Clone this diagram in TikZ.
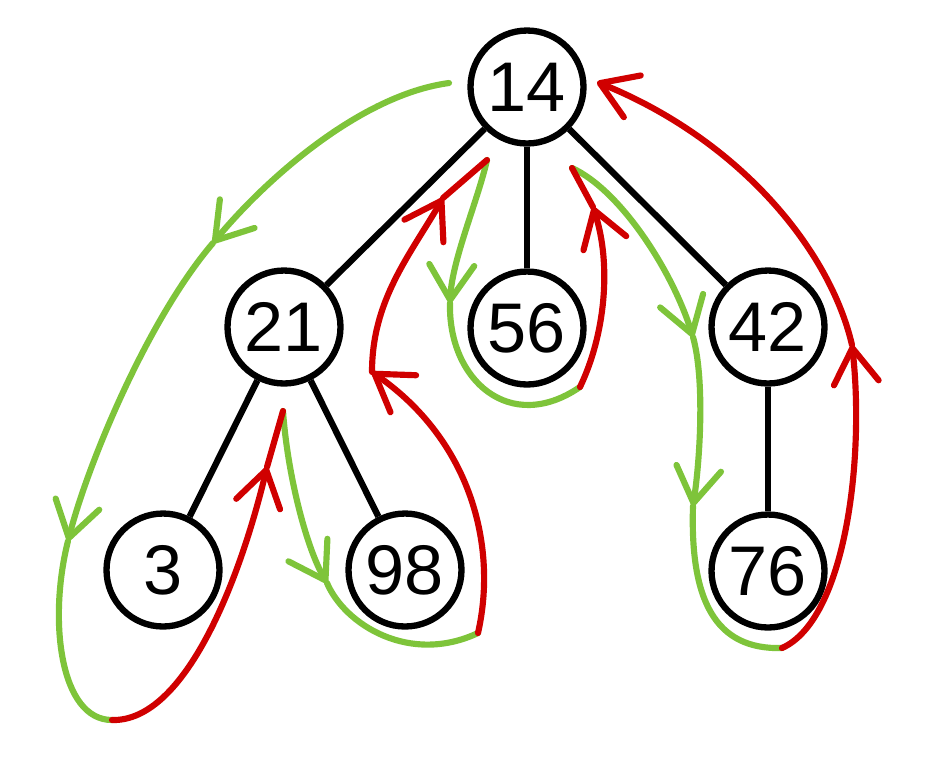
\documentclass[tikz,border=0pt]{standalone}
\usepackage{fontspec}
\setmainfont{Liberation Sans}
\usepackage{xcolor}
\usetikzlibrary{arrows.meta}

\definecolor{gogreen}{RGB}{126,196,58}
\definecolor{backred}{RGB}{208,0,0}

\begin{document}
\begin{tikzpicture}[
    x=0.02cm, y=-0.02cm,
    vertex/.style={circle, draw=black, fill=white, line width=3.6pt, minimum size=2.26cm, inner sep=0pt, font=\fontsize{40}{40}\selectfont},
    edge/.style={line width=3.6pt},
    gopath/.style={draw=gogreen, line width=3.5pt, line cap=round},
    backpath/.style={draw=backred, line width=3.5pt, line cap=round},
    dirhead/.style={-{Straight Barb[round, length=0.7cm, width=0.9cm]}}
]
\useasboundingbox (0,0) rectangle (936,769);

% Tree
\node[vertex] (n14) at (527,87) {14};
\node[vertex] (n21) at (284,327) {21};
\node[vertex] (n56) at (527,328) {56};
\node[vertex] (n42) at (768,327) {42};
\node[vertex] (n3) at (163,570) {3};
\node[vertex] (n98) at (405,570) {98};
\node[vertex] (n76) at (768,571) {76};

\begin{scope}[on background layer/.try]
\draw[edge] (n14) -- (n21);
\draw[edge] (n14) -- (n56);
\draw[edge] (n14) -- (n42);
\draw[edge] (n21) -- (n3);
\draw[edge] (n21) -- (n98);
\draw[edge] (n42) -- (n76);
\end{scope}

% Walk points
\coordinate (s1) at (449,83);
\coordinate (a1) at (213,243);
\coordinate (a2) at (68,541);
\coordinate (j1) at (112,720);
\coordinate (a3) at (267,467);
\coordinate (t1) at (283,411);
\coordinate (a4) at (327,583);
\coordinate (j2) at (478,633);
\coordinate (a5) at (372,372);
\coordinate (a6) at (443,198);
\coordinate (t2) at (487,160);
\coordinate (a7) at (450,303);
\coordinate (j3) at (580,387);
\coordinate (a8) at (593,207);
\coordinate (t3) at (572,168);
\coordinate (a9) at (693,337);
\coordinate (a10) at (693,506);
\coordinate (j4) at (782,648);
\coordinate (a11) at (852,345);
\coordinate (a12) at (597,82);

% Going down
\draw[gopath, dirhead] (s1) .. controls (360,95) and (265,180) .. (a1);
\draw[gopath, dirhead] (a1) .. controls (148,319) and (88,463) .. (a2);
\draw[gopath] (a2) .. controls (48,620) and (60,720) .. (j1);
\draw[gopath, dirhead] (t1) .. controls (287,470) and (305,545) .. (a4);
\draw[gopath] (a4) .. controls (345,625) and (410,665) .. (j2);
\draw[gopath, dirhead] (t2) .. controls (478,200) and (452,260) .. (a7);
\draw[gopath] (a7) .. controls (448,380) and (510,435) .. (j3);
\draw[gopath, dirhead] (t3) .. controls (620,190) and (672,270) .. (a9);
\draw[gopath, dirhead] (a9) .. controls (705,380) and (700,460) .. (a10);
\draw[gopath] (a10) .. controls (690,600) and (715,650) .. (j4);

% Coming back up
\draw[backpath, dirhead] (j1) .. controls (185,722) and (240,580) .. (a3);
\draw[backpath] (a3) -- (t1);
\draw[backpath, dirhead] (j2) .. controls (498,545) and (470,440) .. (a5);
\draw[backpath, dirhead] (a5) .. controls (372,300) and (410,255) .. (a6);
\draw[backpath] (a6) -- (t2);
\draw[backpath, dirhead] (j3) .. controls (605,335) and (612,265) .. (a8);
\draw[backpath] (a8) -- (t3);
\draw[backpath, dirhead] (j4) .. controls (845,620) and (865,460) .. (a11);
\draw[backpath, dirhead] (a11) .. controls (830,250) and (740,140) .. (a12);

\end{tikzpicture}
\end{document}
